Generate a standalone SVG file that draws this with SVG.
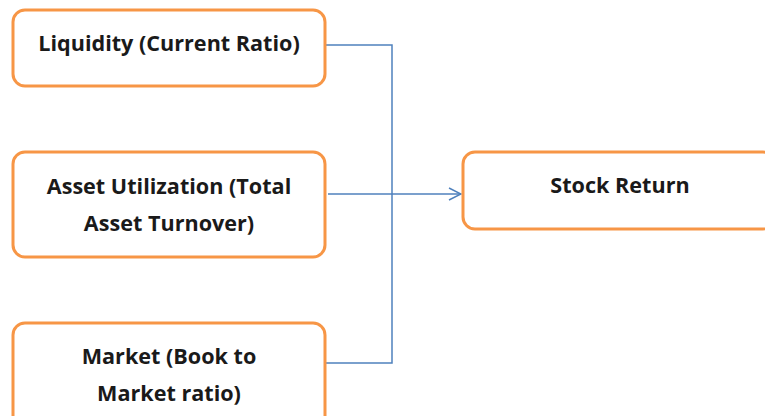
<svg xmlns="http://www.w3.org/2000/svg" width="765" height="416" viewBox="0 0 765 416">
<defs>
<style>
.box{fill:#fff;stroke:#F79646;stroke-width:3}
.t{font-family:"Open Sans","Liberation Sans",sans-serif;font-weight:bold;font-size:21.6px;fill:#1a1a1a;text-anchor:middle}
.c{fill:none;stroke:#4F81BD;stroke-width:1.5}
</style>
<marker id="arr" markerWidth="14" markerHeight="14" refX="13" refY="7" orient="auto" markerUnits="userSpaceOnUse">
<path d="M1,1 L13,7 L1,13" fill="none" stroke="#4F81BD" stroke-width="1.5"/>
</marker>
</defs>
<rect width="765" height="416" fill="#fff"/>
<g id="connectors">
<path class="c" d="M326,45 H392 V363 H326"/>
<path class="c" d="M328,194 H461" marker-end="url(#arr)"/>
</g>
<g id="n1">
<rect class="box" x="13" y="10" width="312" height="76" rx="12"/>
<text class="t" x="169" y="51">Liquidity (Current Ratio)</text>
</g>
<g id="n2">
<rect class="box" x="13" y="152" width="312" height="105" rx="12"/>
<text class="t" x="169" y="194">Asset Utilization (Total</text>
<text class="t" x="169" y="231">Asset Turnover)</text>
</g>
<g id="n3">
<rect class="box" x="13" y="323" width="312" height="105" rx="12"/>
<text class="t" x="169" y="364">Market (Book to</text>
<text class="t" x="169" y="401">Market ratio)</text>
</g>
<g id="n4">
<rect class="box" x="463" y="152" width="312" height="77" rx="12"/>
<text class="t" x="620" y="193">Stock Return</text>
</g>
</svg>
